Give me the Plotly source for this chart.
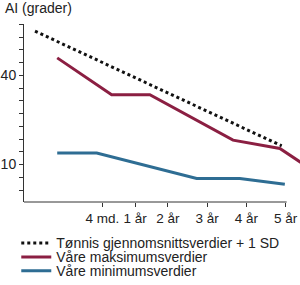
import plotly.graph_objects as go

# Data (x in an age-position scale; tick positions below)
tick_vals = [3.0, 4.25, 5.5, 7.0, 8.5, 10.0]
tick_text = ["4 md.", "1 år", "2 år", "3 år", "4 år", "5 år"]

tonnis_x = [0.42, 9.85]
tonnis_y = [54.9, 16.3]

maks_x = [1.27, 3.35, 4.81, 7.99, 9.78, 10.6]
maks_y = [45.9, 33.5, 33.5, 18.2, 15.4, 10.6]

min_x = [1.27, 2.78, 6.6, 8.25, 9.97]
min_y = [13.9, 13.9, 5.3, 5.3, 3.35]

y_tick_vals = [10 + k * 30 / 7 for k in range(-2, 12)]
y_tick_text = ["10" if abs(v - 10) < 1e-6 else ("40" if abs(v - 40) < 1e-6 else "") for v in y_tick_vals]

RED = "#8b1f42"
BLUE = "#2e6d93"
TXT = "#222222"
FONT = "Liberation Sans, Arial, sans-serif"

fig = go.Figure()
fig.add_trace(go.Scatter(x=tonnis_x, y=tonnis_y, mode="lines",
                         line=dict(color="#111111", width=3, dash="dot"),
                         name="Tønnis gjennomsnittsverdier + 1 SD", legend="legend"))
fig.add_trace(go.Scatter(x=maks_x, y=maks_y, mode="lines",
                         line=dict(color=RED, width=3),
                         name="Våre maksimumsverdier", legend="legend2"))
fig.add_trace(go.Scatter(x=min_x, y=min_y, mode="lines",
                         line=dict(color=BLUE, width=3),
                         name="Våre minimumsverdier", legend="legend3"))

leg_common = dict(x=-0.028, xanchor="left", yanchor="middle", bgcolor="rgba(0,0,0,0)",
                  font=dict(family=FONT, size=14, color=TXT), borderwidth=0,
                  itemwidth=30, tracegroupgap=0)

fig.update_layout(
    width=300, height=285,
    margin=dict(l=24, r=0, t=24, b=83, autoexpand=False),
    paper_bgcolor="white", plot_bgcolor="white",
    showlegend=True,
    legend=dict(y=-0.232, **leg_common),
    legend2=dict(y=-0.311, **leg_common),
    legend3=dict(y=-0.389, **leg_common),
    xaxis=dict(range=[0, 10.55], showgrid=False, zeroline=False, showline=False,
               tickmode="array", tickvals=tick_vals, ticktext=tick_text,
               ticks="outside", ticklen=4, tickwidth=1, tickcolor="#333",
               tickfont=dict(family=FONT, size=13.5, color=TXT)),
    yaxis=dict(range=[-2.6, 57.3], showgrid=False, zeroline=False, showline=True,
               linecolor="#333", linewidth=1,
               tickmode="array", tickvals=y_tick_vals, ticktext=y_tick_text,
               ticks="outside", ticklen=4, tickwidth=1, tickcolor="#333",
               ticklabelstandoff=0,
               tickfont=dict(family=FONT, size=14, color=TXT)),
    annotations=[dict(text="AI (grader)", xref="paper", yref="paper", x=-0.075, y=1.09,
                      xanchor="left", yanchor="middle", showarrow=False,
                      font=dict(family=FONT, size=14, color=TXT))],
    shapes=[dict(type="line", xref="x", yref="paper", x0=0, x1=10.04, y0=0, y1=0,
                 line=dict(color="#333", width=1))],
)

fig.write_html("out.html")
